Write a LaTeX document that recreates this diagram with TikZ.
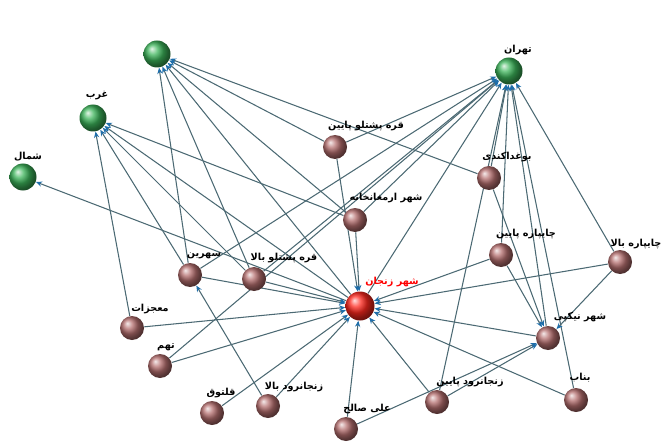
\documentclass[tikz,border=0pt]{standalone}
\usepackage{fontspec}
\newfontfamily\fafont[Script=Arabic]{DejaVu Sans}
\TeXXeTstate=1
\usetikzlibrary{arrows.meta,backgrounds}
\definecolor{edgecol}{RGB}{75,105,115}
\definecolor{tipcol}{RGB}{30,110,170}
\definecolor{brownball}{RGB}{180,110,110}
\definecolor{greenball}{RGB}{60,180,90}
\definecolor{redball}{RGB}{255,40,30}
\tikzset{
  ball/.style={circle,inner sep=0pt,minimum size=24\pgfunit,shading=ball,ball color=brownball},
  hub/.style={ball,minimum size=27\pgfunit,ball color=greenball},
  center/.style={ball,minimum size=29\pgfunit,ball color=redball},
  tag/.style={inner sep=0pt,font=\fafont\fontsize{5.5}{6}\selectfont\bfseries},
  link/.style={edgecol,line width=0.6pt,-{Stealth[length=3.5pt,width=3pt,color=tipcol]}}
}
\begin{document}
\begin{tikzpicture}[x=0.02cm,y=-0.02cm]
  \def\pgfunit{*0.02cm}
  \useasboundingbox (0,0) rectangle (665,442);

  % hubs
  \node[hub] (g1) at (23,177) {};
  \node[hub] (g2) at (93,118) {};
  \node[hub] (g3) at (157,54) {};
  \node[hub] (g4) at (509,71) {};
  \node[tag] (g1-l) at (28,157) {\beginR شمال\endR};
  \node[tag] (g2-l) at (97,96) {\beginR غرب\endR};
  \node[tag] (g4-l) at (518,50) {\beginR تهران\endR};

  % zanjan
  \node[center] (z) at (360,306) {};
  \node[tag,red] (z-l) at (392,282) {\beginR شهر زنجان\endR};

  % rural places
  \foreach \n/\x/\y/\lx/\ly/\t in {
      a/335/147/366/126/قره پشتلو پایین,
      b/355/220/386/198/شهر ارمغانخانه,
      c/489/178/507/157/بوغداکندی,
      d/501/255/526/234/چایپاره پایین,
      e/620/262/636/244/چایپاره بالا,
      f/548/338/580/317/شهر نیکپی,
      s/576/400/580/378/بناب,
      h/437/402/470/382/زنجانرود پایین,
      i/346/429/367/409/علی صالح,
      j/268/406/294/387/زنجانرود بالا,
      k/212/413/221/393/قلتوق,
      l/160/366/166/347/تهم,
      m/132/328/150/309/معجزات,
      n/190/275/204/256/سهرین,
      o/254/279/284/258/قره پشتلو بالا}{
    \node[ball] (\n) at (\x,\y) {};
    \node[tag] (\n-l) at (\lx,\ly) {\beginR\t\endR};
  }

  \begin{pgfonlayer}{background}
    \foreach \s in {a,b,c,d,e,f,s,h,n,o,z,l}
      \draw[link] (\s) -- (g4);
    \foreach \s in {a,b,c,n,o,z}
      \draw[link] (\s) -- (g3);
    \foreach \s in {b,m,n,o,z}
      \draw[link] (\s) -- (g2);
    \draw[link] (z) -- (g1);
    \foreach \s in {a,b,d,e,f,s,h,i,j,k,l,m,n,o}
      \draw[link] (\s) -- (z);
    \foreach \s in {c,d,e,h,i}
      \draw[link] (\s) -- (f);
    \draw[link] (j) -- (n);
  \end{pgfonlayer}
\end{tikzpicture}
\end{document}
